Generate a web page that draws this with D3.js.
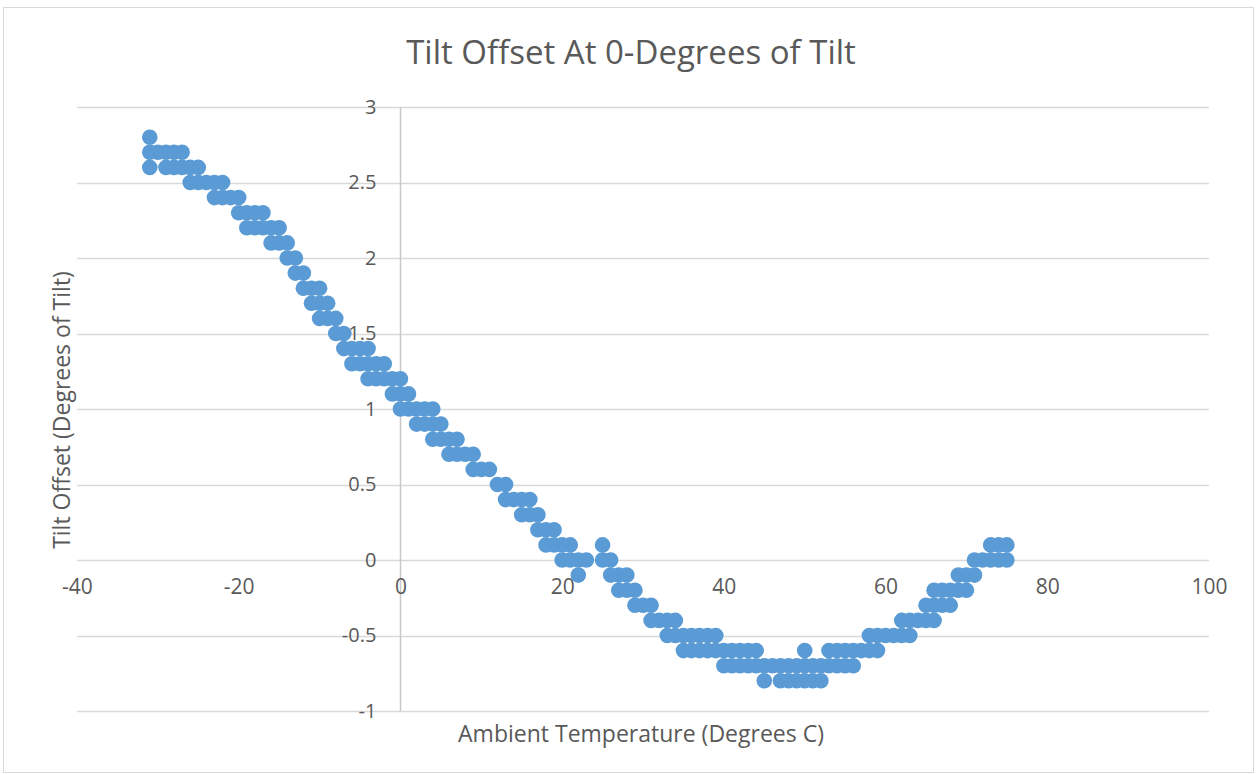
<!DOCTYPE html>
<html>
<head>
<meta charset="utf-8">
<script src="https://cdn.jsdelivr.net/npm/d3@7/dist/d3.min.js"></script>
<style>
  body { margin: 0; background: #FFFFFF; }
  text { font-family: 'Open Sans', 'Liberation Sans', sans-serif; fill: #595959; }
</style>
</head>
<body>
<script>
// Configuration
var width = 1259;
var height = 774;
var plotLeft = 77, plotRight = 1209, plotTop = 107, plotBottom = 711;
var markerRadius = 7.8;
var markerColor = '#5B9BD5';
var gridColor = '#D9D9D9';

// Data: each offset level and the temperatures logged at that level
var offsets = [2.8, 2.7, 2.6, 2.5, 2.4, 2.3, 2.2, 2.1, 2.0, 1.9, 1.8, 1.7, 1.6, 1.5, 1.4, 1.3,
    1.2, 1.1, 1.0, 0.9, 0.8, 0.7, 0.6, 0.5, 0.4, 0.3, 0.2, 0.1, 0.0,
    -0.1, -0.2, -0.3, -0.4, -0.5, -0.6, -0.7, -0.8];

var temps = [
    [-31],
    [-31, -30, -29, -28, -27],
    [-31, -29, -28, -27, -26, -25],
    [-26, -25, -24, -23, -22],
    [-23, -22, -21, -20],
    [-20, -19, -18, -17],
    [-19, -18, -17, -16, -15],
    [-16, -15, -14],
    [-14, -13],
    [-13, -12],
    [-12, -11, -10],
    [-11, -10, -9],
    [-10, -9, -8],
    [-8, -7],
    [-7, -6, -5, -4],
    [-6, -5, -4, -3, -2],
    [-4, -3, -2, -1, 0],
    [-1, 0, 1],
    [0, 1, 2, 3, 4],
    [2, 3, 4, 5],
    [4, 5, 6, 7],
    [6, 7, 8, 9],
    [9, 10, 11],
    [12, 13],
    [13, 14, 15, 16],
    [15, 16, 17],
    [17, 18, 19],
    [18, 19, 20, 21, 25, 73, 74, 75],
    [20, 21, 22, 23, 25, 26, 71, 72, 73, 74, 75],
    [22, 26, 27, 28, 69, 70, 71],
    [27, 28, 29, 66, 67, 68, 69, 70],
    [29, 30, 31, 65, 66, 67, 68],
    [31, 32, 33, 34, 62, 63, 64, 65, 66],
    [33, 34, 35, 36, 37, 38, 39, 58, 59, 60, 61, 62, 63],
    [35, 36, 37, 38, 39, 40, 41, 42, 43, 44, 50, 53, 54, 55, 56, 57, 58, 59],
    [40, 41, 42, 43, 44, 45, 46, 47, 48, 49, 50, 51, 52, 53, 54, 55, 56],
    [45, 47, 48, 49, 50, 51, 52]
];

var xTicks = [-40, -20, 0, 20, 40, 60, 80, 100];
var yTicks = [-1, -0.5, 0, 0.5, 1, 1.5, 2, 2.5, 3];

var chartTitle = 'Tilt Offset At 0-Degrees of Tilt';
var xTitle = 'Ambient Temperature (Degrees C)';
var yTitle = 'Tilt Offset (Degrees of Tilt)';

function buildPoints() {
    var points = [];
    offsets.forEach(function(offset, i) {
        temps[i].forEach(function(t) {
            points.push({ temp: t, offset: offset });
        });
    });
    return points;
}

function draw() {
    var svg = d3.select('body')
        .append('svg')
        .attr('width', width)
        .attr('height', height);

    svg.append('rect')
        .attr('x', 3.5)
        .attr('y', 7.5)
        .attr('width', 1250)
        .attr('height', 765)
        .attr('fill', '#FFFFFF')
        .attr('stroke', gridColor)
        .attr('stroke-width', 1);

    var x = d3.scaleLinear().domain([-40, 100]).range([plotLeft, plotRight]);
    var y = d3.scaleLinear().domain([-1, 3]).range([plotBottom, plotTop]);

    // horizontal gridlines
    svg.append('g')
        .selectAll('line')
        .data(yTicks)
        .enter()
        .append('line')
        .attr('x1', plotLeft)
        .attr('x2', plotRight)
        .attr('y1', function(d) { return Math.round(y(d)) + 0.5; })
        .attr('y2', function(d) { return Math.round(y(d)) + 0.5; })
        .attr('stroke', gridColor)
        .attr('stroke-width', 1.5);

    // vertical axis line at x = 0
    svg.append('line')
        .attr('x1', Math.round(x(0)) + 0.5)
        .attr('x2', Math.round(x(0)) + 0.5)
        .attr('y1', plotTop)
        .attr('y2', plotBottom)
        .attr('stroke', '#C8C8C8')
        .attr('stroke-width', 1.5);

    // markers
    svg.append('g')
        .selectAll('circle')
        .data(buildPoints())
        .enter()
        .append('circle')
        .attr('cx', function(d) { return x(d.temp); })
        .attr('cy', function(d) { return y(d.offset); })
        .attr('r', markerRadius)
        .attr('fill', markerColor);

    // axes (labels only)
    var yAxis = svg.append('g')
        .attr('transform', 'translate(' + x(0) + ',0)')
        .call(d3.axisLeft(y).tickValues(yTicks).tickSize(0).tickPadding(24)
            .tickFormat(function(d) { return String(d); }));
    yAxis.select('.domain').remove();
    yAxis.selectAll('text')
        .style('font-size', '20px')
        .style('font-family', null)
        .attr('fill', '#595959');

    var xAxis = svg.append('g')
        .attr('transform', 'translate(0,' + y(0) + ')')
        .call(d3.axisBottom(x).tickValues(xTicks).tickSize(0).tickPadding(19)
            .tickFormat(function(d) { return String(d); }));
    xAxis.select('.domain').remove();
    xAxis.selectAll('text')
        .style('font-size', '21px')
        .style('font-family', null)
        .attr('fill', '#595959');

    // titles
    svg.append('text')
        .attr('x', 631)
        .attr('y', 64)
        .attr('text-anchor', 'middle')
        .style('font-size', '33px')
        .text(chartTitle);

    svg.append('text')
        .attr('x', 641)
        .attr('y', 742)
        .attr('text-anchor', 'middle')
        .style('font-size', '23px')
        .text(xTitle);

    svg.append('text')
        .attr('transform', 'translate(70,410) rotate(-90)')
        .attr('text-anchor', 'middle')
        .style('font-size', '23px')
        .text(yTitle);
}

draw();
</script>
</body>
</html>
